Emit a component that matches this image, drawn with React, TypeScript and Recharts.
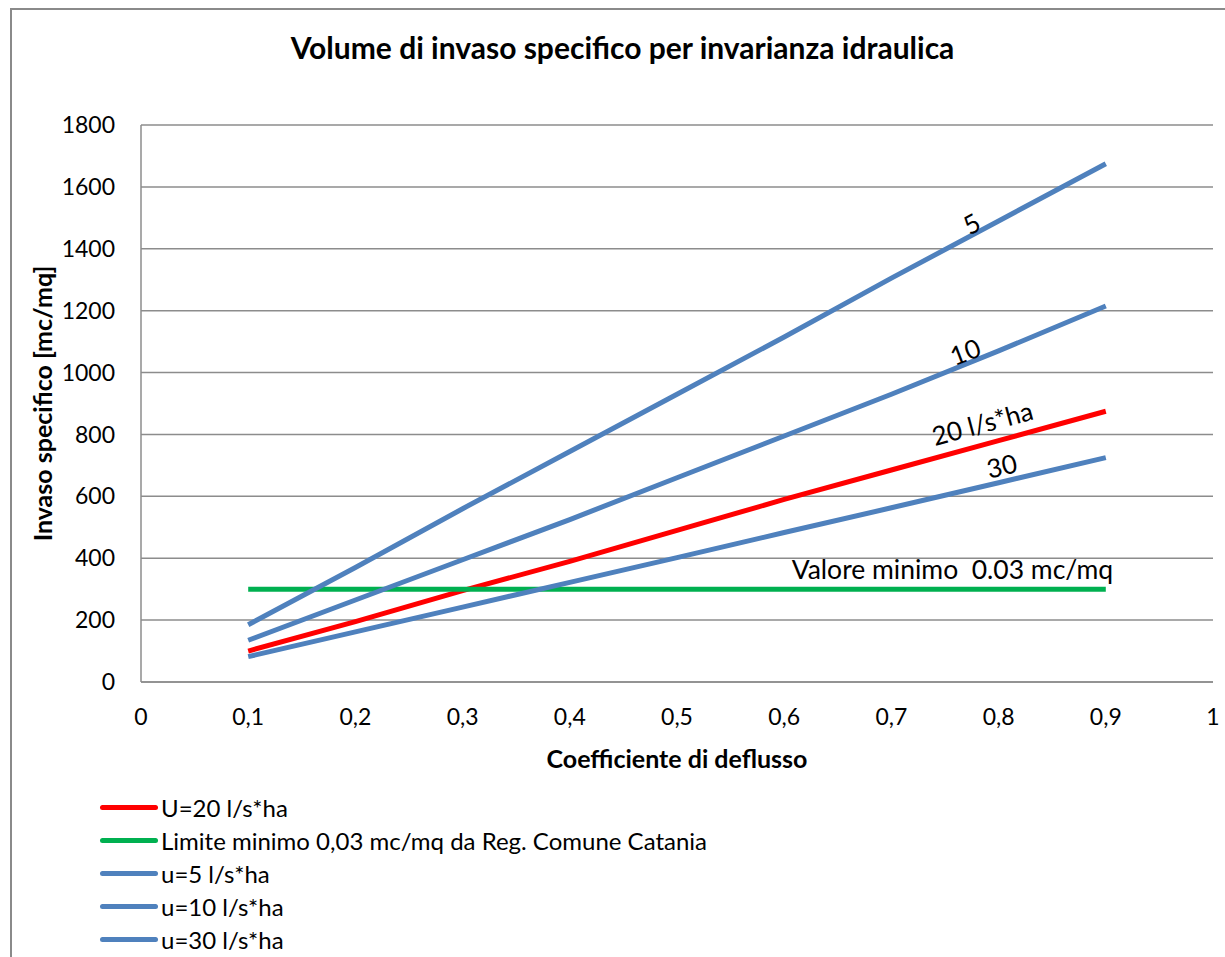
import React from 'react';
import { LineChart, Line, XAxis, YAxis, CartesianGrid, ReferenceDot } from 'recharts';

// coefficiente di deflusso
const phi = [0.1, 0.2, 0.3, 0.4, 0.5, 0.6, 0.7, 0.8, 0.9];

// invaso specifico [mc/mq] per ogni serie
const u20 = [100, 195, 295, 390, 490, 590, 685, 780, 875];
const limite = [300, 300, 300, 300, 300, 300, 300, 300, 300];
const u5 = [185, 370, 560, 745, 930, 1115, 1305, 1490, 1675];
const u10 = [135, 265, 395, 525, 660, 795, 930, 1070, 1215];
const u30 = [82, 162, 242, 322, 402, 483, 563, 644, 725];

const xTicks = [0, 0.1, 0.2, 0.3, 0.4, 0.5, 0.6, 0.7, 0.8, 0.9, 1];
const yTicks = [0, 200, 400, 600, 800, 1000, 1200, 1400, 1600, 1800];

const seriesKeys = ['u20', 'limite', 'u5', 'u10', 'u30'];
const seriesNames: Record<string, string> = {
  u20: 'U=20 l/s*ha',
  limite: 'Limite minimo 0,03 mc/mq da Reg. Comune Catania',
  u5: 'u=5 l/s*ha',
  u10: 'u=10 l/s*ha',
  u30: 'u=30 l/s*ha',
};

// etichette scritte sulle linee
const lineLabels = [
  { text: '5', x: 0.775, y: 1480, angle: -28 },
  { text: '10', x: 0.769, y: 1066, angle: -21 },
  { text: '20 l/s*ha', x: 0.785, y: 835, angle: -15 },
  { text: '30', x: 0.803, y: 697, angle: -13 },
];
const minLabel = { text: 'Valore minimo\u00a0\u00a00.03 mc/mq', x: 0.607, y: 362 };

const data = phi.map((p, i) => ({
  phi: p,
  u20: u20[i],
  limite: limite[i],
  u5: u5[i],
  u10: u10[i],
  u30: u30[i],
}));

const colors: Record<string, string> = {
  u20: '#ff0000',
  limite: '#00b050',
  u5: '#4f81bd',
  u10: '#4f81bd',
  u30: '#4f81bd',
};

const FONT = 'Lato, "Open Sans", sans-serif';
const GRID = '#8c8c8c';
const comma = (v: number) => String(v).replace('.', ',');

export default function App() {
  return (
    <div
      style={{
        position: 'absolute',
        left: 0,
        top: 0,
        width: 1225,
        height: 957,
        overflow: 'hidden',
        background: '#fff',
        fontFamily: FONT,
      }}
    >
      <div
        style={{
          position: 'absolute',
          left: 10,
          top: 8,
          width: 1240,
          height: 980,
          border: '2px solid #8a8a8a',
        }}
      />
      <div
        style={{
          position: 'absolute',
          left: 0,
          top: 28,
          width: 1245,
          textAlign: 'center',
          fontSize: 30,
          fontWeight: 700,
          color: '#000',
          lineHeight: '38px',
        }}
      >
        Volume di invaso specifico per invarianza idraulica
      </div>

      <div style={{ position: 'absolute', left: 0, top: 0 }}>
        <LineChart
          width={1225}
          height={957}
          data={data}
          margin={{ top: 125, right: 12, bottom: 185, left: 21 }}
        >
          <CartesianGrid vertical={false} stroke={GRID} strokeWidth={1.5} />
          <XAxis
            dataKey="phi"
            type="number"
            domain={[0, 1]}
            ticks={xTicks}
            tickFormatter={comma}
            stroke={GRID}
            strokeWidth={1.5}
            tickLine={false}
            tickSize={6}
            tickMargin={21}
            height={90}
            tick={{ fontSize: 23, fill: '#000', fontFamily: FONT }}
            label={{
              value: 'Coefficiente di deflusso',
              position: 'insideBottom',
              offset: 4,
              style: { fontSize: 25, fontWeight: 700, fill: '#000', fontFamily: FONT },
            }}
          />
          <YAxis
            type="number"
            domain={[0, 1800]}
            ticks={yTicks}
            width={120}
            stroke={GRID}
            strokeWidth={1.5}
            tickLine={false}
            tickSize={6}
            tickMargin={20}
            tick={{ fontSize: 23, fill: '#000', fontFamily: FONT }}
            label={{
              value: 'Invaso specifico [mc/mq]',
              angle: -90,
              position: 'insideLeft',
              offset: 22,
              style: { fontSize: 25, fontWeight: 700, fill: '#000', fontFamily: FONT, textAnchor: 'middle' },
            }}
          />
          {seriesKeys.map((k) => (
            <Line
              key={k}
              type="linear"
              dataKey={k}
              name={seriesNames[k]}
              stroke={colors[k]}
              strokeWidth={5}
              dot={false}
              activeDot={false}
              isAnimationActive={false}
            />
          ))}
          {lineLabels.map((l) => (
            <ReferenceDot
              key={l.text}
              x={l.x}
              y={l.y}
              r={0}
              fill="none"
              stroke="none"
              label={{
                value: l.text,
                position: 'center',
                angle: l.angle,
                style: { fontSize: 26, fill: '#000', fontFamily: FONT },
              }}
            />
          ))}
          <ReferenceDot
            x={minLabel.x}
            y={minLabel.y}
            r={0}
            fill="none"
            stroke="none"
            label={{
              value: minLabel.text,
              position: 'right',
              offset: 0,
              style: { fontSize: 26.5, fill: '#000', fontFamily: FONT },
            }}
          />
        </LineChart>
      </div>

      <div style={{ position: 'absolute', left: 100, top: 791 }}>
        {seriesKeys.map((k) => (
          <div key={k} style={{ display: 'flex', alignItems: 'center', height: 33 }}>
            <span
              style={{
                display: 'inline-block',
                width: 58,
                height: 5,
                borderRadius: 3,
                background: colors[k],
                marginRight: 3,
              }}
            />
            <span style={{ fontSize: 24, color: '#000' }}>{seriesNames[k]}</span>
          </div>
        ))}
      </div>
    </div>
  );
}
